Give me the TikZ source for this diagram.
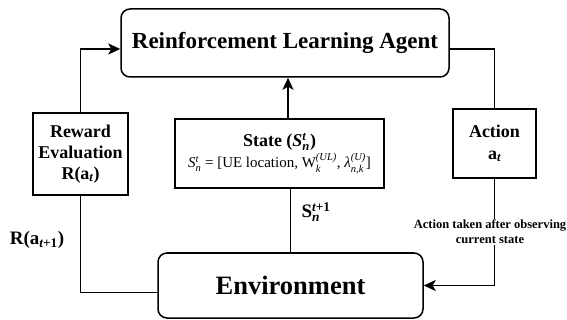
\documentclass[tikz,border=0pt]{standalone}
\usepackage{amsmath}
\usepackage{fontspec}
\setmainfont{Liberation Serif}
\usetikzlibrary{arrows.meta}
\newcommand{\sbsp}[2]{$_{\text{\itshape #1}}^{\text{\itshape #2}}$}
\newcommand{\sbs}[1]{$_{\text{\itshape #1}}$}

\begin{document}
\begin{tikzpicture}[x=1pt,y=-1pt,
    mainbox/.style={draw,line width=1.5pt,rounded corners=9pt,font=\bfseries\fontsize{23}{27}\selectfont},
    infobox/.style={draw,line width=1.5pt,align=center,inner sep=2pt,font=\bfseries\fontsize{18}{21}\selectfont},
    lbl/.style={font=\bfseries\fontsize{19}{22}\selectfont,inner sep=1pt},
    arr/.style={-{Stealth[length=12pt,width=11pt,inset=3pt]},line width=1.5pt},
    link/.style={line width=1.5pt}]
    \useasboundingbox (0,0) rectangle (567,320);
    \node[mainbox,minimum width=328pt,minimum height=68pt] (agent) at (285,43) {Reinforcement Learning Agent};
    \node[mainbox,minimum width=265pt,minimum height=65pt,font=\bfseries\fontsize{26.5}{30}\selectfont] (env) at (290.5,285.5) {Environment};
    \node[infobox,minimum width=95pt,minimum height=82pt] (reward) at (80.5,154) {Reward\\Evaluation\\R(a\sbs{t})};
    \node[infobox,minimum width=83pt,minimum height=69pt,font=\bfseries\fontsize{18}{22}\selectfont] (action) at (494.5,143.5) {Action\\a\sbs{t}};
    \node[infobox,minimum width=209pt,minimum height=69pt] (state) at (279.5,153.5) {State (\textit{S}\sbsp{n}{t})\\{\normalfont\fontsize{15}{16}\selectfont\textit{S}\sbsp{n}{t} = [UE location, W\sbsp{k}{(UL)}, \textit{λ}\sbsp{n,k}{(U)}]}};
    \node[font=\bfseries\fontsize{12.5}{15}\selectfont,align=center,inner sep=1pt] (acttext) at (490,232) {Action taken after observing\\current state};
    \node[lbl] (rnext) at (37,240) {R(a$_{\text{\itshape t}\text{+1}}$)};
    \node[lbl] (snext) at (316,212) {S$_{\text{\itshape n}}^{\text{\itshape t}\text{+1}}$};
    \draw[link] ([yshift=-6pt]agent.east) -| (action.north); \draw[link] (action.south) -- (action.south |- acttext.north); \draw[arr] (action.south |- acttext.south) |- (env.east);
    \draw[link] ([yshift=-7pt]env.west) -| (reward.south); \draw[arr] (reward.north) |- ([yshift=-6pt]agent.west);
    \draw[arr] ([xshift=8.5pt]state.north) -- ([xshift=8.5pt]state.north |- agent.south); \draw[link] (env.north) -- (env.north |- state.south);
  \end{tikzpicture}
\end{document}
